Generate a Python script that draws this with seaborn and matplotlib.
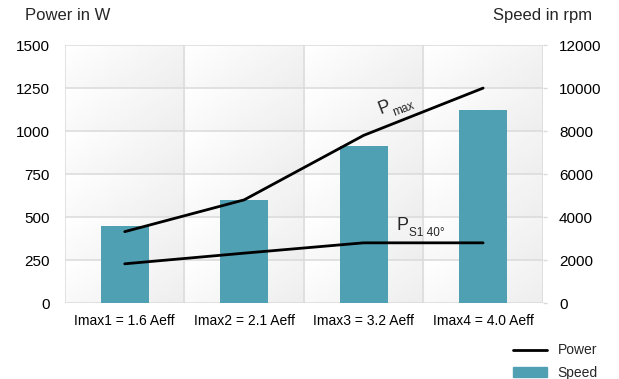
import numpy as np
import pandas as pd
import matplotlib
matplotlib.use("Agg")
import matplotlib.pyplot as plt
import seaborn as sns
from matplotlib.lines import Line2D
from matplotlib.patches import Patch

# values
categories = ["Imax1 = 1.6 Aeff", "Imax2 = 2.1 Aeff", "Imax3 = 3.2 Aeff", "Imax4 = 4.0 Aeff"]
speed_rpm = [3600, 4800, 7300, 9000]
power_max = [415, 600, 975, 1250]
power_s1 = [228, 290, 350, 350]

power_ticks = [0, 250, 500, 750, 1000, 1250, 1500]
speed_ticks = [0, 2000, 4000, 6000, 8000, 10000, 12000]

bar_color = "#4fa0b3"
grid_color = "#dadada"

sns.set_theme(style="white")
plt.rcParams["font.family"] = ["Liberation Sans", "DejaVu Sans"]

x_pos = np.arange(len(categories))
df = pd.DataFrame({"pos": x_pos, "cat": categories, "speed": speed_rpm,
                   "pmax": power_max, "ps1": power_s1})

fig = plt.figure(figsize=(6.19, 3.79), dpi=100)
ax = fig.add_axes([0.105, 0.2005, 0.772, 0.6805])

# soft per-cell gradient background
n_cols, n_rows, res = len(categories), len(power_ticks) - 1, 40
u = np.linspace(0, 1, res)
cell = 1.0 - 0.045 * u[None, :] - 0.025 * u[:, None]
bg = np.tile(cell, (n_rows, n_cols))
ax.imshow(bg, cmap="gray", vmin=0, vmax=1, aspect="auto", zorder=0,
          extent=(-0.5, n_cols - 0.5, 0, speed_ticks[-1]), interpolation="bilinear")

sns.barplot(data=df, x="pos", y="speed", color=bar_color, width=0.4, linewidth=0,
            saturation=1, ax=ax, zorder=2, native_scale=True)
ax.set_xlim(-0.5, n_cols - 0.5)
ax.set_ylim(0, speed_ticks[-1])
ax.set_xticks(x_pos)
ax.set_xticklabels(categories, fontsize=10)
ax.set_xlabel("")
ax.set_ylabel("")
for b in np.arange(-0.5, n_cols, 1):
    ax.axvline(b, color=grid_color, lw=1.1, zorder=1)
for t in speed_ticks:
    ax.axhline(t, color=grid_color, lw=1.1, zorder=1)
for s in ax.spines.values():
    s.set_visible(False)

ax2 = ax.twinx()
sns.lineplot(data=df, x="pos", y="pmax", color="black", lw=2, ax=ax2)
sns.lineplot(data=df, x="pos", y="ps1", color="black", lw=2, ax=ax2)
ax2.set_ylim(0, power_ticks[-1])
ax2.set_yticks(power_ticks)
ax2.yaxis.tick_left()
ax2.set_ylabel("")
ax2.set_xlabel("")
for s in ax2.spines.values():
    s.set_visible(False)
ax2.tick_params(axis="y", length=0, labelsize=11, pad=10.8, colors="black")

# speed axis on the right (twinx resets it to the left)
ax.yaxis.tick_right()
ax.set_yticks(speed_ticks)
ax.tick_params(axis="y", length=3, width=1, color=grid_color, labelsize=11,
               pad=8.6, labelcolor="black")
ax.tick_params(axis="x", length=0, labelsize=10, pad=8, labelcolor="black")

ax2.text(2.178, 1139, "P", fontsize=13, rotation=21, ha="center", va="center")
ax2.text(2.337, 1127, "max", fontsize=8.5, rotation=21, ha="center", va="center")
ax2.text(2.328, 453, "P", fontsize=13, ha="center", va="center")
ax2.text(2.53, 407, "S1 40°", fontsize=8.5, ha="center", va="center")

fig.text(0.04, 0.96, "Power in W", fontsize=12, ha="left", va="center")
fig.text(0.957, 0.96, "Speed in rpm", fontsize=12, ha="right", va="center")

handles = [Line2D([0], [0], color="black", lw=2), Patch(color=bar_color)]
fig.legend(handles, ["Power", "Speed"], loc="lower right", bbox_to_anchor=(0.986, -0.035),
           frameon=False, fontsize=10, handlelength=2.45, labelspacing=0.6)

fig.savefig("out.png", dpi=100)
